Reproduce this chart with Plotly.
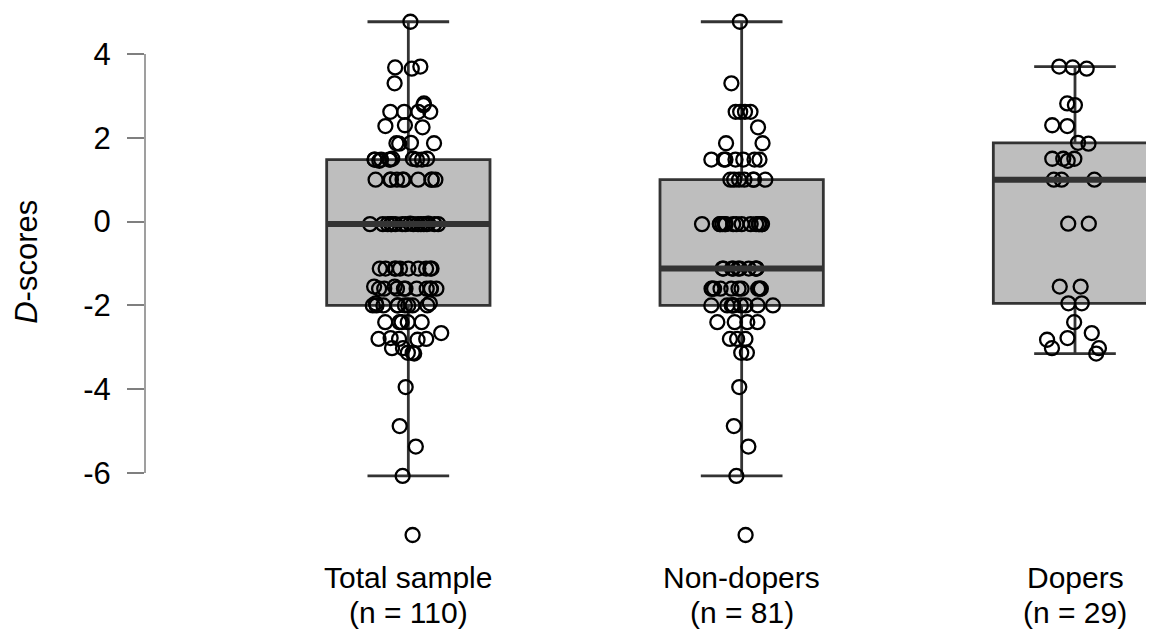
import numpy as np
import plotly.graph_objects as go

categories = ["Total sample", "Non-dopers", "Dopers"]
n_labels = ["(n = 110)", "(n = 81)", "(n = 29)"]

non_dopers = [
    4.77, 3.30, 2.62, 2.62, 2.62, 2.62, 2.25, 1.87, 1.87,
    1.48, 1.48, 1.48, 1.48, 1.48, 1.48, 1.48,
    1.00, 1.00, 1.00, 1.00, 1.00, 1.00, 1.00,
    -0.06, -0.06, -0.06, -0.06, -0.06, -0.06, -0.06, -0.06,
    -0.06, -0.06, -0.06, -0.06, -0.06, -0.06, -0.06,
    -1.12, -1.12, -1.12, -1.12, -1.12, -1.12, -1.12, -1.12, -1.12, -1.12,
    -1.60, -1.60, -1.60, -1.60, -1.60, -1.60, -1.60, -1.60, -1.60, -1.60,
    -2.00, -2.00, -2.00, -2.00, -2.00, -2.00, -2.00, -2.00, -2.00,
    -2.40, -2.40, -2.40, -2.40,
    -2.80, -2.80, -2.80,
    -3.13, -3.13,
    -3.95, -4.88, -5.37, -6.07, -7.48,
]

dopers = [
    3.70, 3.68, 3.65, 2.82, 2.78, 2.30, 2.28, 1.88, 1.86,
    1.50, 1.50, 1.50, 1.45, 1.00, 1.00, 1.00, -0.05, -0.05,
    -1.55, -1.55, -1.95, -1.95, -2.40, -2.66, -2.78, -2.82,
    -3.02, -3.02, -3.15,
]

total_sample = non_dopers + dopers

y_tick_vals = [-6, -4, -2, 0, 2, 4]
y_tick_text = ["-6", "-4", "-2", "0", "2", "4"]

groups = [total_sample, non_dopers, dopers]

BOX_W = 0.49
BOX_LINE = "#333333"
FILL = "#BEBEBE"
FONT = "Liberation Sans, Arial, sans-serif"

fig = go.Figure()

# boxes with whiskers (Tukey hinges, 1.5 IQR fences)
for i, vals in enumerate(groups):
    fig.add_trace(go.Box(
        y=vals, x0=i, width=BOX_W, boxpoints="outliers", pointpos=0,
        quartilemethod="inclusive", fillcolor=FILL,
        line=dict(color=BOX_LINE, width=2.8), whiskerwidth=0.5,
        marker=dict(opacity=0, size=1), showlegend=False, hoverinfo="skip",
    ))

# thick median lines
for i, vals in enumerate(groups):
    med = float(np.median(vals))
    fig.add_trace(go.Scatter(
        x=[i - BOX_W / 2, i + BOX_W / 2], y=[med, med], mode="lines",
        line=dict(color=BOX_LINE, width=6), showlegend=False, hoverinfo="skip",
    ))

# jittered points on top
for i, vals in enumerate(groups):
    fig.add_trace(go.Box(
        y=vals, x0=i, width=BOX_W, boxpoints="all", jitter=0.5, pointpos=0,
        fillcolor="rgba(0,0,0,0)", line=dict(color="rgba(0,0,0,0)", width=0),
        marker=dict(symbol="circle-open", size=14, color="black",
                    line=dict(width=2.3, color="black")),
        showlegend=False, hoverinfo="y",
    ))

# R-style y axis line spanning only the tick range
fig.add_shape(type="line", xref="paper", yref="y", x0=0, x1=0,
              y0=min(y_tick_vals), y1=max(y_tick_vals),
              line=dict(color="#7f7f7f", width=1.5))

# category labels (two lines each)
for i, (c, n) in enumerate(zip(categories, n_labels)):
    fig.add_annotation(x=i, xref="x", y=0, yref="paper", yanchor="middle",
                       yshift=-22, text=c, showarrow=False,
                       font=dict(family=FONT, size=30, color="black"))
    fig.add_annotation(x=i, xref="x", y=0, yref="paper", yanchor="middle",
                       yshift=-57, text=n, showarrow=False,
                       font=dict(family=FONT, size=30, color="black"))

# y axis title
fig.add_annotation(x=0, xref="paper", xshift=-118, xanchor="center",
                   y=0.536, yref="paper", yanchor="middle",
                   text="<i>D</i>-scores", textangle=-90, showarrow=False,
                   font=dict(family=FONT, size=31, color="black"))

fig.update_layout(
    width=1146, height=624,
    margin=dict(l=137, r=0, t=0, b=77),
    plot_bgcolor="white", paper_bgcolor="white",
    font=dict(family=FONT, size=31, color="black"),
    showlegend=False, boxmode="overlay",
)

fig.update_xaxes(
    range=[-0.79, 2.237], tickvals=[0, 1, 2], showticklabels=False,
    showgrid=False, zeroline=False, showline=False, ticks="",
)

fig.update_yaxes(
    range=[-7.957, 5.098], tickvals=y_tick_vals, ticktext=y_tick_text,
    ticks="outside", ticklen=17, tickwidth=1.5, tickcolor="#7f7f7f",
    ticklabelstandoff=10,
    showgrid=False, zeroline=False, showline=False,
)

fig.write_html("out.html")
